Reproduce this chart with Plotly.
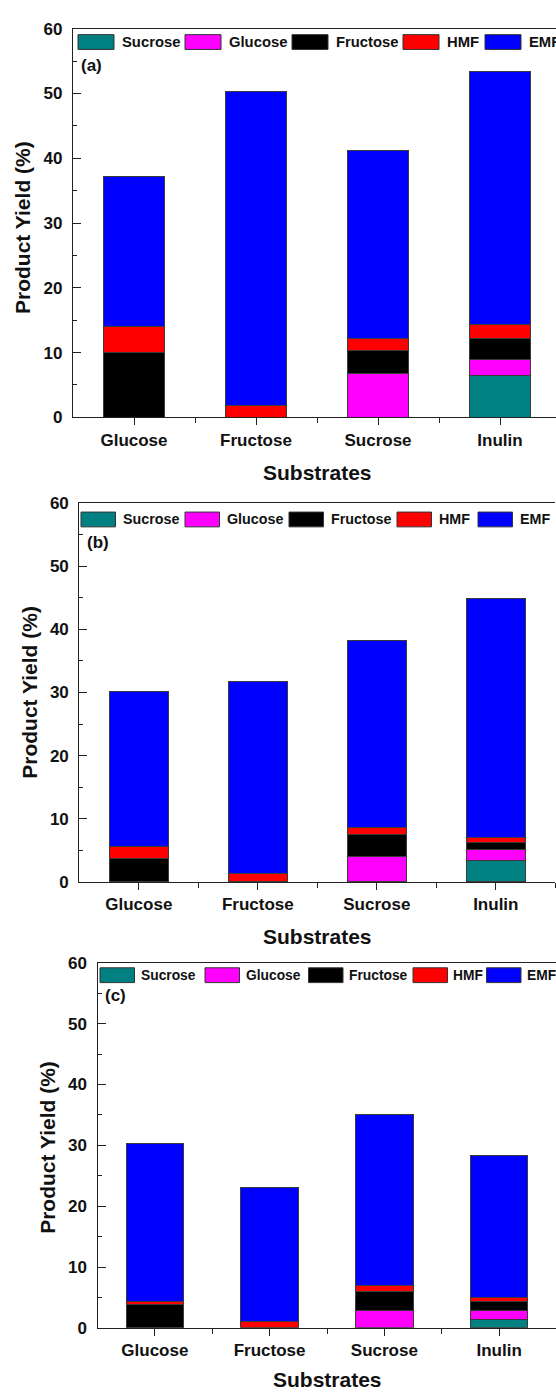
import plotly.graph_objects as go

# ---------------- data ----------------
categories = ["Glucose", "Fructose", "Sucrose", "Inulin"]
components = ["Sucrose", "Glucose", "Fructose", "HMF", "EMF"]
colors = ["#008080", "#FF00FF", "#000000", "#FF0000", "#0000FF"]

# panel (a)
a_sucrose = [0, 0, 0, 6.4]
a_glucose = [0, 0, 6.8, 2.6]
a_fructose = [10.0, 0, 3.6, 3.1]
a_hmf = [4.1, 1.9, 1.8, 2.3]
a_emf = [23.1, 48.4, 29.0, 39.0]

# panel (b)
b_sucrose = [0, 0, 0, 3.4]
b_glucose = [0, 0, 4.0, 1.7]
b_fructose = [3.7, 0, 3.5, 1.1]
b_hmf = [1.9, 1.4, 1.2, 0.8]
b_emf = [24.6, 30.3, 29.5, 37.9]

# panel (c)
c_sucrose = [0, 0, 0, 1.4]
c_glucose = [0, 0, 2.85, 1.4]
c_fructose = [3.8, 0, 3.05, 1.55]
c_hmf = [0.55, 1.0, 1.0, 0.7]
c_emf = [25.95, 22.0, 28.1, 23.35]

panel_labels = ["(a)", "(b)", "(c)"]
y_ticks = [0, 10, 20, 30, 40, 50, 60]

# ---------------- layout geometry (pixels) ----------------
W, H = 556, 1399
FONT = "Liberation Sans, Arial, sans-serif"
panels = [
    dict(data=[a_sucrose, a_glucose, a_fructose, a_hmf, a_emf],
         left=73, right=561, top=20, bottom=414,
         leg_boxes=[78, 185, 292, 403, 485], leg_y=33.5, leg_w=36, leg_off=42,
         leg_font=14.8, lab=(79, 57), xt_y=470, yt_shift=5),
    dict(data=[b_sucrose, b_glucose, b_fructose, b_hmf, b_emf],
         left=79.3, right=555.3, top=500.7, bottom=885,
         leg_boxes=[81, 185, 289, 397, 478], leg_y=517.5, leg_w=34.5, leg_off=39.5,
         leg_font=14.3, lab=(85, 541), xt_y=940, yt_shift=0),
    dict(data=[c_sucrose, c_glucose, c_fructose, c_hmf, c_emf],
         left=97.5, right=556.5, top=967, bottom=1337,
         leg_boxes=[100, 205, 308.5, 413, 486.5], leg_y=979.5, leg_w=34.5,
         leg_off=38.5, leg_font=13.8, lab=(103, 1000), xt_y=1389, yt_shift=2),
]


def px(x):
    return x / W


def py(y):
    return 1 - y / H


fig = go.Figure()
xpos = list(range(1, len(categories) + 1))
shapes = []
annotations = []

for i, p in enumerate(panels):
    sfx = "" if i == 0 else str(i + 1)
    xa, ya = "x" + sfx, "y" + sfx
    for name, vals, col in zip(components, p["data"], colors):
        fig.add_trace(go.Bar(
            x=xpos, y=[v if v else None for v in vals], name=name,
            width=0.5, marker=dict(color=col, line=dict(color="#3a3a3a", width=1)),
            xaxis=xa, yaxis=ya, showlegend=False,
        ))
    # axes
    span = (p["right"] - p["left"]) / 4.0
    right_px = min(p["right"], W)
    xmax = 0.5 + (right_px - p["left"]) / span
    axis_common = dict(showline=True, linecolor="#222222", linewidth=1.2,
                       showgrid=False, zeroline=False)
    fig.layout["xaxis" + sfx] = dict(
        **axis_common, domain=[px(p["left"]), px(right_px)], range=[0.5, xmax],
        anchor=ya, mirror=True,
        tickmode="array", tickvals=xpos, ticktext=categories,
        ticks="outside", ticklen=7, tickwidth=1.2, tickcolor="#222222",
        minor=dict(tickmode="array", tickvals=[1.5, 2.5, 3.5, 4.5], ticks="outside",
                   ticklen=5, tickwidth=1.2, tickcolor="#222222"),
        tickfont=dict(family=FONT, size=17, color="#111111", weight="bold"),
        ticklabelstandoff=0,
    )
    fig.layout["yaxis" + sfx] = dict(
        **axis_common, domain=[py(p["bottom"]), py(p["top"])], range=[0, 60],
        anchor=xa, tickmode="array", tickvals=y_ticks,
        ticks="inside", ticklen=8, tickwidth=1.2, tickcolor="#222222",
        minor=dict(dtick=5, tick0=0, ticks="inside", ticklen=4, tickwidth=1.2,
                   tickcolor="#222222"),
        tickfont=dict(family=FONT, size=17, color="#111111", weight="bold"),
        ticklabelstandoff=6,
    )
    # custom legend
    for bx, name, col in zip(p["leg_boxes"], components, colors):
        shapes.append(dict(type="rect", xref="paper", yref="paper",
                           x0=px(bx), x1=px(bx + p["leg_w"]), y0=py(p["leg_y"] + 7.5),
                           y1=py(p["leg_y"] - 7.5), fillcolor=col,
                           line=dict(color="#333333", width=1)))
        annotations.append(dict(xref="paper", yref="paper", x=px(bx + p["leg_off"]),
                                y=py(p["leg_y"]), xanchor="left", yanchor="middle",
                                text=name, showarrow=False,
                                font=dict(family=FONT, size=p["leg_font"],
                                          color="#111111", weight="bold")))
    # panel label
    annotations.append(dict(xref="paper", yref="paper", x=px(p["lab"][0]),
                            y=py(p["lab"][1]), xanchor="left", yanchor="middle",
                            text=panel_labels[i], showarrow=False,
                            font=dict(family=FONT, size=17, color="#111111",
                                      weight="bold")))
    # axis titles
    annotations.append(dict(xref="paper", yref="paper", x=px(p["left"] - 50),
                            y=py((p["top"] + p["bottom"]) / 2 + p["yt_shift"]),
                            xanchor="center", yanchor="middle", textangle=-90,
                            text="Product Yield (%)", showarrow=False,
                            font=dict(family=FONT, size=21, color="#111111",
                                      weight="bold")))
    annotations.append(dict(xref="paper", yref="paper",
                            x=px((p["left"] + p["right"]) / 2), y=py(p["xt_y"]),
                            xanchor="center", yanchor="middle", text="Substrates",
                            showarrow=False,
                            font=dict(family=FONT, size=21, color="#111111",
                                      weight="bold")))

fig.update_layout(
    width=W, height=H, margin=dict(l=0, r=0, t=0, b=0),
    paper_bgcolor="white", plot_bgcolor="white",
    barmode="stack", showlegend=False,
    shapes=shapes, annotations=annotations,
)

fig.write_html("out.html")
